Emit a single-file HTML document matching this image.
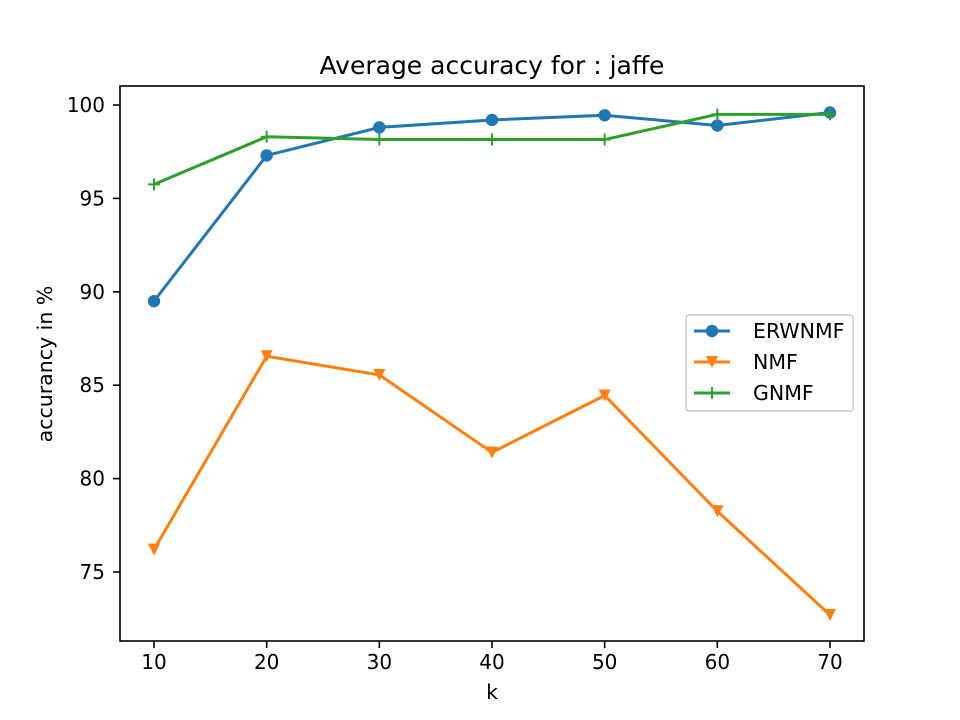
<!DOCTYPE html>
<html><head><meta charset="utf-8"><style>
body{margin:0;background:#fff;}
svg{display:block;font-family:"DejaVu Sans","Liberation Sans",sans-serif;}
</style></head><body>
<svg id="chart" width="960" height="720" viewBox="0 0 960 720">
<rect width="960" height="720" fill="#fff"/>
<text x="492" y="74" font-size="25" text-anchor="middle">Average accuracy for : jaffe</text>
<g id="plot"></g>
<rect x="120" y="86" width="744" height="555" fill="none" stroke="#000" stroke-width="1.6"/>
<text x="492" y="699" font-size="20.5" text-anchor="middle">k</text>
<text x="52" y="364" font-size="20.5" text-anchor="middle" transform="rotate(-90 52 364)">accurancy in %</text>
<g>
<rect x="686" y="315" width="167" height="96" rx="3" fill="#fff" fill-opacity="0.8" stroke="#ccc" stroke-width="1.5"/>
<g><line x1="694" y1="331" x2="730" y2="331" stroke="#1f77b4" stroke-width="3"/><circle cx="712" cy="331" r="6.2" fill="#1f77b4"/><text x="753" y="338" font-size="20.5">ERWNMF</text></g>
<g><line x1="694" y1="362" x2="730" y2="362" stroke="#ff7f0e" stroke-width="3"/><path d="M706 356 L718 356 L712 368 Z" fill="#ff7f0e"/><text x="753" y="369" font-size="20.5">NMF</text></g>
<g><line x1="694" y1="393" x2="730" y2="393" stroke="#2ca02c" stroke-width="3"/><path d="M706 393 H718 M712 387 V399" stroke="#2ca02c" stroke-width="2"/><text x="753" y="400" font-size="20.5">GNMF</text></g>
</g>
</svg>
<script>
const categories = [10, 20, 30, 40, 50, 60, 70];
const erwnmf = [89.5, 97.3, 98.8, 99.2, 99.45, 98.9, 99.6];
const nmf = [76.2, 86.55, 85.55, 81.4, 84.45, 78.25, 72.7];
const gnmf = [95.75, 98.3, 98.15, 98.15, 98.15, 99.5, 99.5];
const xTicks = [10, 20, 30, 40, 50, 60, 70];
const yTicks = [75, 80, 85, 90, 95, 100];

const NS = "http://www.w3.org/2000/svg";
const xS = v => 154 + (v - 10) * (676 / 60);
const yS = v => 105 + (100 - v) * (467 / 25);
const g = document.getElementById('plot');
function mk(tag, attrs, parent) {
  const e = document.createElementNS(NS, tag);
  for (const k in attrs) e.setAttribute(k, attrs[k]);
  (parent || g).appendChild(e);
  return e;
}
xTicks.forEach(t => {
  const l = mk('line', {x1: xS(t), x2: xS(t), y1: 641, y2: 648, stroke: '#000', 'stroke-width': 1.6});
  
  
  const tx = mk('text', {x: xS(t), y: 669, 'font-size': 20, 'text-anchor': 'middle'});
  tx.textContent = t;
  
  
});
yTicks.forEach(t => {
  const l = mk('line', {x1: 113, x2: 120, y1: yS(t), y2: yS(t), stroke: '#000', 'stroke-width': 1.6});
  
  
  const tx = mk('text', {x: 105, y: yS(t) + 7, 'font-size': 20, 'text-anchor': 'end'});
  tx.textContent = t;
  
  
});
function series(vals, color, marker, name) {
  const grp = mk('g', {});
  
  
  const pts = vals.map((v, i) => xS(categories[i]) + ',' + yS(v)).join(' ');
  const pl = mk('polyline', {points: pts, fill: 'none', stroke: color, 'stroke-width': 3, 'stroke-linejoin': 'round'}, grp);
  
  
  vals.forEach((v, i) => {
    const x = xS(categories[i]), y = yS(v);
    let m;
    if (marker === 'o') m = mk('circle', {cx: x, cy: y, r: 6.2, fill: color}, grp);
    else if (marker === 'v') m = mk('path', {d: `M${x-6} ${y-6} L${x+6} ${y-6} L${x} ${y+6} Z`, fill: color}, grp);
    else m = mk('path', {d: `M${x-6} ${y} H${x+6} M${x} ${y-6} V${y+6}`, stroke: color, 'stroke-width': 2}, grp);
    
    
  });
}
series(erwnmf, '#1f77b4', 'o', 'erwnmf');
series(nmf, '#ff7f0e', 'v', 'nmf');
series(gnmf, '#2ca02c', '+', 'gnmf');
</script>
</body></html>
